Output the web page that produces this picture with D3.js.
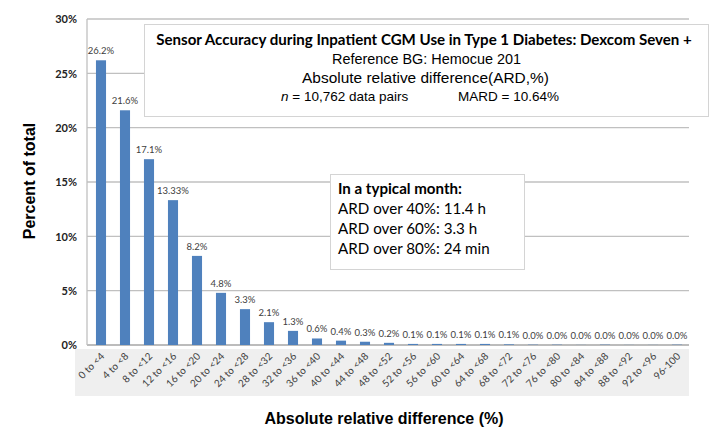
<!DOCTYPE html>
<html><head><meta charset="utf-8">
<script src="https://cdn.jsdelivr.net/npm/d3@7"></script>
<style>body{margin:0;background:#fff;}svg{display:block;}</style>
</head><body>
<svg id="chart" width="719" height="440"></svg>
<script>
const categories = ["0 to <4","4 to <8","8 to <12","12 to <16","16 to <20","20 to <24","24 to <28","28 to <32","32 to <36","36 to <40","40 to <44","44 to <48","48 to <52","52 to <56","56 to <60","60 to <64","64 to <68","68 to <72","72 to <76","76 to <80","80 to <84","84 to <88","88 to <92","92 to <96","96-100"];
const values = [26.2,21.6,17.1,13.33,8.2,4.8,3.3,2.1,1.3,0.6,0.4,0.3,0.2,0.1,0.1,0.1,0.1,0.06,0.03,0.03,0.01,0.03,0.01,0.01,0.03];
const valueLabels = ["26.2%","21.6%","17.1%","13.33%","8.2%","4.8%","3.3%","2.1%","1.3%","0.6%","0.4%","0.3%","0.2%","0.1%","0.1%","0.1%","0.1%","0.1%","0.0%","0.0%","0.0%","0.0%","0.0%","0.0%","0.0%"];
const yTicks = [0,5,10,15,20,25,30];
const titleLines = ["Sensor Accuracy during Inpatient CGM Use in Type 1 Diabetes:  Dexcom Seven +","Reference  BG: Hemocue 201","Absolute relative difference(ARD,%)"];
const monthTitle = "In a typical month:";
const monthLines = ["ARD over 40%:  11.4 h","ARD over 60%:  3.3 h","ARD over 80%:  24 min"];

const svg = d3.select("#chart");
const calibri = "Lato, 'Open Sans', sans-serif";
const helv = "'Liberation Sans', Arial, sans-serif";

function fit(sel, target) {
  const node = sel.node();
  const fs = parseFloat(sel.attr("font-size"));
  const w = node.getComputedTextLength();
  if (w > 0) sel.attr("font-size", (fs * target / w).toFixed(2));
  return sel;
}

const x = d3.scaleBand().domain(categories).range([89, 689]).paddingInner(0.58).paddingOuter(0.29);
const y = d3.scaleLinear().domain([0, 30]).range([345, 19]);

// x label background
svg.append("rect").attr("x", 75).attr("y", 349).attr("width", 614).attr("height", 47).attr("fill", "#efefef");

// gridlines
svg.append("g").selectAll("line").data(yTicks).join("line")
  .attr("x1", 87).attr("x2", 689)
  .attr("y1", d => y(d)).attr("y2", d => y(d))
  .attr("stroke", d => d === 0 ? "#a6a6a6" : "#c0c0c0").attr("stroke-width", 1.3);
svg.append("line").attr("x1", 87).attr("x2", 87).attr("y1", y(30)).attr("y2", y(0))
  .attr("stroke", "#c0c0c0").attr("stroke-width", 1.3);

// y tick labels
const yAxis = d3.axisLeft(y).tickValues(yTicks).tickFormat(d => d + "%").tickSize(0).tickPadding(10);
const yg = svg.append("g").attr("transform", "translate(87,0)").call(yAxis);
yg.select(".domain").remove();
yg.selectAll("text").attr("font-family", calibri).attr("font-weight", "bold").attr("font-size", 11).attr("fill", "#222").attr("dy", "0.35em");

// bars
svg.append("g").selectAll("rect").data(values).join("rect")
  .attr("x", (d, i) => x(categories[i]))
  .attr("width", x.bandwidth())
  .attr("y", d => y(d))
  .attr("height", d => y(0) - y(d))
  .attr("fill", "#4f81bd");

// value labels
svg.append("g").selectAll("text").data(values).join("text")
  .attr("x", (d, i) => x(categories[i]) + x.bandwidth() / 2)
  .attr("y", d => y(d) - 6)
  .attr("text-anchor", "middle")
  .attr("font-family", calibri).attr("font-size", 9.5).attr("fill", "#404040")
  .text((d, i) => valueLabels[i]);

// x axis category labels
const xAxis = d3.axisBottom(x).tickSize(0).tickPadding(0);
const xg = svg.append("g").attr("transform", "translate(0,349)").call(xAxis);
xg.select(".domain").remove();
xg.selectAll("text")
  .attr("font-family", calibri).attr("font-size", 10).attr("fill", "#404040")
  .attr("text-anchor", "end").attr("dy", null).attr("y", 0)
  .attr("transform", "translate(4,8) rotate(-45)");

// axis titles
svg.append("text").attr("x", 384).attr("y", 424).attr("text-anchor", "middle")
  .attr("font-family", helv).attr("font-weight", "bold").attr("font-size", 16).attr("fill", "#000")
  .text("Absolute relative difference (%)");
svg.append("text").attr("transform", "translate(35,181) rotate(-90)").attr("text-anchor", "middle")
  .attr("font-family", helv).attr("font-weight", "bold").attr("font-size", 16).attr("fill", "#000")
  .text("Percent of total");

// title box
svg.append("rect").attr("x", 144.5).attr("y", 24.5).attr("width", 564).attr("height", 92)
  .attr("fill", "#fff").attr("stroke", "#d4d4d4").attr("stroke-width", 1);
const cx = 424;
fit(svg.append("text").attr("x", cx).attr("y", 45).attr("text-anchor", "middle")
  .attr("font-family", calibri).attr("font-weight", "bold").attr("font-size", 14.5).attr("fill", "#000")
  .text(titleLines[0]), 536);
fit(svg.append("text").attr("x", 426.5).attr("y", 64).attr("text-anchor", "middle")
  .attr("font-family", helv).attr("font-size", 13).attr("fill", "#000").text(titleLines[1]), 189);
fit(svg.append("text").attr("x", 425.5).attr("y", 83).attr("text-anchor", "middle")
  .attr("font-family", helv).attr("font-size", 13).attr("fill", "#000").text(titleLines[2]), 247);
const t4 = svg.append("text").attr("x", 281).attr("y", 101)
  .attr("font-family", helv).attr("font-size", 13.5).attr("fill", "#000");
t4.append("tspan").attr("font-style", "italic").text("n");
t4.append("tspan").text(" = 10,762 data pairs");
svg.append("text").attr("x", 458).attr("y", 101)
  .attr("font-family", helv).attr("font-size", 13.5).attr("fill", "#000").text("MARD = 10.64%");

// month box
svg.append("rect").attr("x", 330.5).attr("y", 174.5).attr("width", 194).attr("height", 95)
  .attr("fill", "#fff").attr("stroke", "#d4d4d4").attr("stroke-width", 1);
fit(svg.append("text").attr("x", 338).attr("y", 194)
  .attr("font-family", calibri).attr("font-weight", "bold").attr("font-size", 14).attr("fill", "#000").text(monthTitle), 124);
const ml = svg.append("g").selectAll("text").data(monthLines).join("text")
  .attr("x", 338).attr("y", (d, i) => 214 + i * 20)
  .attr("font-family", calibri).attr("font-size", 14).attr("fill", "#000").text(d => d);
fit(d3.select(ml.nodes()[0]), 148);
ml.attr("font-size", d3.select(ml.nodes()[0]).attr("font-size"));
</script>
</body></html>
